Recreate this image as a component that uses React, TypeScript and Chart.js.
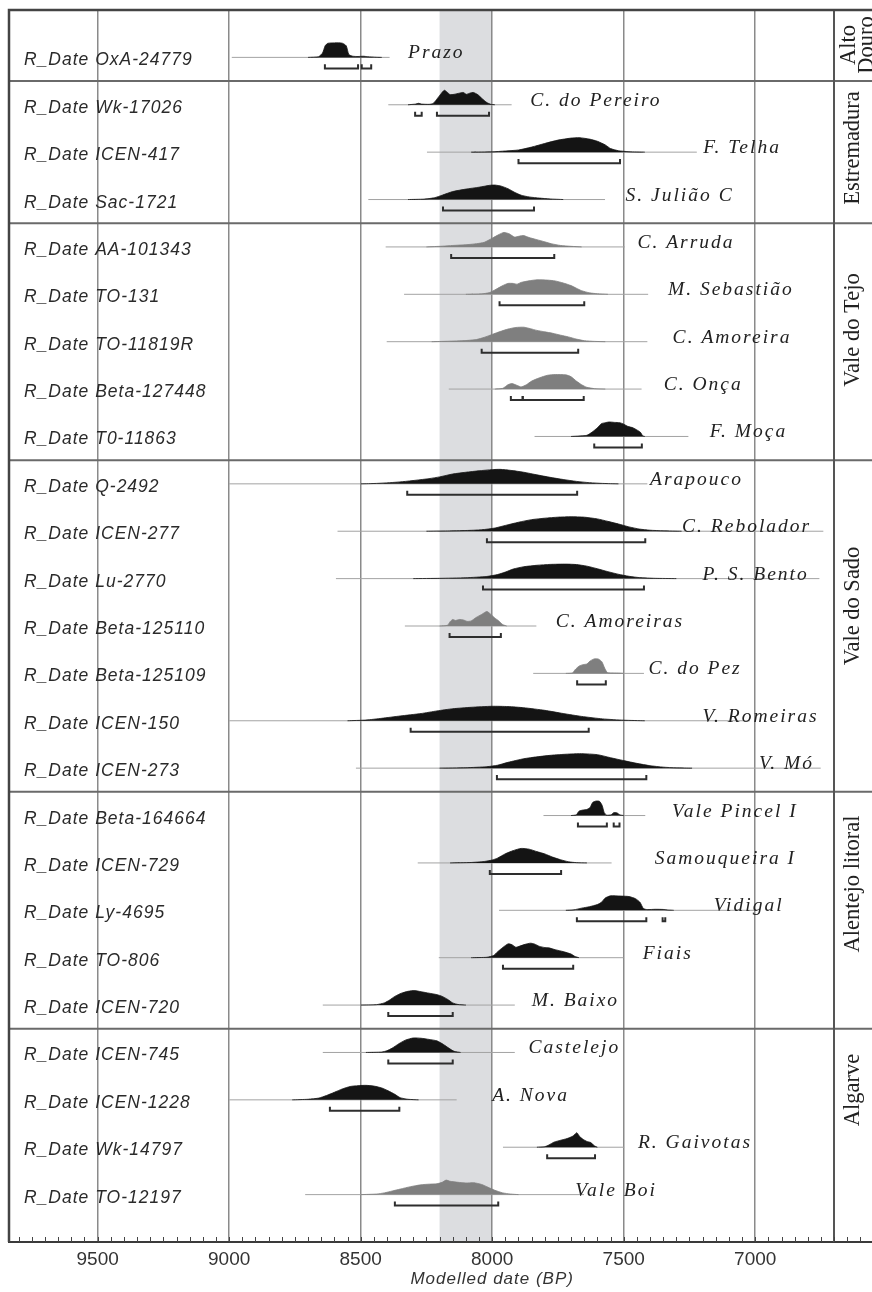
import React, { useEffect, useRef } from 'react';
import { Chart, registerables } from 'chart.js';

Chart.register(...registerables);

// ---------- data ----------
const labCodes = ['OxA-24779', 'Wk-17026', 'ICEN-417', 'Sac-1721', 'AA-101343', 'TO-131', 'TO-11819R', 'Beta-127448', 'T0-11863', 'Q-2492', 'ICEN-277', 'Lu-2770', 'Beta-125110', 'Beta-125109', 'ICEN-150', 'ICEN-273', 'Beta-164664', 'ICEN-729', 'Ly-4695', 'TO-806', 'ICEN-720', 'ICEN-745', 'ICEN-1228', 'Wk-14797', 'TO-12197'];

const siteNames = ['Prazo', 'C. do Pereiro', 'F. Telha', 'S. Julião C', 'C. Arruda', 'M. Sebastião', 'C. Amoreira', 'C. Onça', 'F. Moça', 'Arapouco', 'C. Rebolador', 'P. S. Bento', 'C. Amoreiras', 'C. do Pez', 'V. Romeiras', 'V. Mó', 'Vale Pincel I', 'Samouqueira I', 'Vidigal', 'Fiais', 'M. Baixo', 'Castelejo', 'A. Nova', 'R. Gaivotas', 'Vale Boi'];

// year at which each site name starts
const siteLabelAt = [8320, 7855, 7198, 7493, 7448, 7332, 7314, 7348, 7173, 7400, 7278, 7200, 7758, 7406, 7200, 6986, 7316, 7382, 7158, 7428, 7850, 7862, 8000, 7446, 7684];

// k = black, g = grey
const shade = ['k', 'k', 'k', 'k', 'g', 'g', 'g', 'g', 'k', 'k', 'k', 'k', 'g', 'g', 'k', 'k', 'k', 'k', 'k', 'k', 'k', 'k', 'k', 'k', 'g'];

// full extent of each distribution (years BP)
const rangeFrom = [8990, 8395, 8248, 8471, 8405, 8335, 8401, 8165, 7839, 9000, 8588, 8594, 8332, 7844, 9000, 8518, 7805, 8283, 7974, 8203, 8644, 8644, 9000, 7959, 8711];
const rangeTo = [8390, 7926, 7222, 7571, 7496, 7407, 7410, 7432, 7254, 7410, 6741, 6756, 7832, 7423, 7020, 6751, 7418, 7546, 7004, 7501, 7914, 7914, 8135, 7498, 7651];

// 95.4% ranges
const hpd95 = [
  [[8636, 8510], [8496, 8460]],
  [[8293, 8268], [8210, 8012]],
  [[7900, 7514]],
  [[8187, 7841]],
  [[8156, 7764]],
  [[7972, 7650]],
  [[8040, 7673]],
  [[7929, 7884], [7884, 7652]],
  [[7612, 7431]],
  [[8323, 7677]],
  [[8020, 7418]],
  [[8035, 7423]],
  [[8162, 7967]],
  [[7677, 7568]],
  [[8310, 7633]],
  [[7982, 7414]],
  [[7674, 7564], [7538, 7516]],
  [[8009, 7738]],
  [[7678, 7414], [7352, 7342]],
  [[7959, 7692]],
  [[8395, 8150]],
  [[8395, 8150]],
  [[8617, 8353]],
  [[7791, 7609]],
  [[8370, 7977]],
];

// relative probability (year, density 0..1)
const densities = [
  [[8700, 0], [8660, 0.05], [8645, 0.3], [8635, 0.8], [8625, 0.97], [8600, 1], [8570, 0.98], [8555, 0.8], [8545, 0.2], [8530, 0.08], [8510, 0.06], [8490, 0.08], [8475, 0.05], [8440, 0.01], [8420, 0]],
  [[8320, 0], [8290, 0.05], [8280, 0.1], [8270, 0.05], [8240, 0.03], [8225, 0.08], [8212, 0.35], [8195, 0.75], [8182, 1], [8170, 0.85], [8160, 0.7], [8145, 0.72], [8125, 0.8], [8110, 0.85], [8098, 0.72], [8085, 0.8], [8072, 0.85], [8055, 0.7], [8040, 0.45], [8020, 0.15], [8005, 0.03], [7990, 0]],
  [[8080, 0], [8000, 0.02], [7950, 0.08], [7900, 0.15], [7850, 0.35], [7800, 0.6], [7750, 0.83], [7700, 0.97], [7670, 1], [7630, 0.9], [7600, 0.75], [7570, 0.5], [7550, 0.25], [7520, 0.1], [7480, 0.03], [7420, 0]],
  [[8320, 0], [8260, 0.03], [8220, 0.12], [8190, 0.3], [8150, 0.55], [8100, 0.72], [8050, 0.85], [8010, 0.98], [7990, 1], [7965, 0.92], [7940, 0.75], [7915, 0.5], [7890, 0.3], [7860, 0.18], [7820, 0.1], [7780, 0.04], [7730, 0]],
  [[8250, 0], [8190, 0.05], [8150, 0.1], [8100, 0.15], [8060, 0.22], [8030, 0.32], [8000, 0.6], [7975, 0.85], [7955, 1], [7935, 0.9], [7915, 0.68], [7895, 0.75], [7880, 0.78], [7860, 0.65], [7830, 0.5], [7800, 0.35], [7775, 0.22], [7740, 0.1], [7700, 0.04], [7660, 0]],
  [[8100, 0], [8040, 0.03], [8010, 0.12], [7985, 0.35], [7960, 0.6], [7940, 0.75], [7920, 0.75], [7905, 0.7], [7890, 0.82], [7860, 0.93], [7830, 1], [7790, 0.98], [7760, 0.92], [7730, 0.78], [7700, 0.6], [7680, 0.42], [7660, 0.25], [7630, 0.1], [7600, 0.04], [7560, 0]],
  [[8230, 0], [8170, 0.03], [8100, 0.08], [8060, 0.15], [8030, 0.3], [8000, 0.5], [7970, 0.7], [7940, 0.87], [7910, 0.98], [7880, 1], [7855, 0.9], [7830, 0.78], [7800, 0.68], [7770, 0.58], [7740, 0.45], [7710, 0.33], [7680, 0.18], [7650, 0.07], [7610, 0.02], [7570, 0]],
  [[7990, 0], [7960, 0.05], [7940, 0.3], [7925, 0.38], [7905, 0.25], [7890, 0.15], [7870, 0.3], [7850, 0.55], [7820, 0.78], [7790, 0.95], [7760, 1], [7720, 0.98], [7700, 0.85], [7680, 0.55], [7660, 0.3], [7640, 0.12], [7610, 0.03], [7570, 0]],
  [[7700, 0], [7670, 0.03], [7640, 0.08], [7620, 0.3], [7600, 0.6], [7585, 0.88], [7570, 0.95], [7555, 1], [7535, 0.97], [7515, 0.95], [7500, 0.85], [7485, 0.7], [7465, 0.6], [7450, 0.45], [7437, 0.3], [7428, 0.05], [7420, 0]],
  [[8500, 0], [8440, 0.03], [8390, 0.08], [8340, 0.15], [8290, 0.25], [8240, 0.36], [8200, 0.48], [8150, 0.68], [8100, 0.8], [8050, 0.9], [8000, 0.98], [7970, 1], [7930, 0.93], [7880, 0.8], [7830, 0.62], [7780, 0.45], [7730, 0.3], [7680, 0.17], [7630, 0.08], [7580, 0.03], [7520, 0]],
  [[8250, 0], [8170, 0.02], [8100, 0.05], [8040, 0.1], [7990, 0.22], [7950, 0.4], [7900, 0.62], [7850, 0.8], [7800, 0.9], [7750, 0.97], [7700, 1], [7650, 0.97], [7600, 0.85], [7560, 0.68], [7520, 0.5], [7480, 0.3], [7440, 0.15], [7400, 0.07], [7350, 0.03], [7280, 0]],
  [[8300, 0], [8200, 0.02], [8100, 0.06], [8020, 0.15], [7980, 0.28], [7950, 0.45], [7920, 0.66], [7880, 0.82], [7830, 0.92], [7780, 0.98], [7720, 1], [7680, 0.97], [7640, 0.86], [7600, 0.68], [7560, 0.48], [7520, 0.3], [7480, 0.16], [7440, 0.07], [7380, 0.02], [7300, 0]],
  [[8200, 0], [8170, 0.05], [8160, 0.3], [8150, 0.45], [8140, 0.38], [8125, 0.45], [8110, 0.42], [8095, 0.32], [8080, 0.35], [8060, 0.6], [8040, 0.8], [8020, 1], [8005, 0.8], [7990, 0.55], [7975, 0.35], [7960, 0.1], [7945, 0]],
  [[7720, 0], [7695, 0.03], [7685, 0.25], [7670, 0.5], [7655, 0.6], [7640, 0.65], [7628, 0.85], [7612, 1], [7595, 0.98], [7583, 0.8], [7572, 0.35], [7562, 0.06], [7540, 0.03], [7515, 0.02], [7500, 0]],
  [[8550, 0], [8480, 0.05], [8420, 0.17], [8350, 0.33], [8270, 0.5], [8210, 0.68], [8150, 0.83], [8080, 0.93], [8000, 1], [7940, 0.98], [7880, 0.9], [7800, 0.72], [7730, 0.5], [7660, 0.3], [7580, 0.13], [7500, 0.04], [7420, 0]],
  [[8200, 0], [8100, 0.03], [8020, 0.1], [7980, 0.2], [7940, 0.4], [7880, 0.65], [7830, 0.78], [7770, 0.9], [7700, 0.98], [7660, 1], [7600, 0.93], [7550, 0.72], [7500, 0.52], [7450, 0.33], [7400, 0.17], [7350, 0.07], [7300, 0.02], [7240, 0]],
  [[7700, 0], [7680, 0.05], [7670, 0.3], [7655, 0.38], [7640, 0.42], [7628, 0.55], [7618, 0.9], [7605, 1], [7592, 0.98], [7582, 0.7], [7574, 0.2], [7565, 0.03], [7548, 0.05], [7538, 0.2], [7525, 0.18], [7515, 0.05], [7500, 0]],
  [[8160, 0], [8080, 0.03], [8030, 0.1], [8000, 0.2], [7980, 0.33], [7950, 0.63], [7920, 0.85], [7890, 1], [7860, 0.95], [7830, 0.78], [7800, 0.62], [7770, 0.4], [7740, 0.22], [7710, 0.08], [7680, 0.02], [7640, 0]],
  [[7720, 0], [7690, 0.03], [7660, 0.15], [7630, 0.25], [7600, 0.4], [7585, 0.55], [7570, 0.85], [7550, 1], [7510, 0.98], [7480, 0.95], [7455, 0.8], [7438, 0.55], [7425, 0.12], [7410, 0.05], [7380, 0.07], [7350, 0.06], [7330, 0.02], [7310, 0]],
  [[8080, 0], [8020, 0.03], [7995, 0.15], [7980, 0.4], [7960, 0.7], [7940, 0.95], [7925, 0.9], [7910, 0.72], [7895, 0.8], [7875, 0.92], [7855, 1], [7840, 0.95], [7820, 0.78], [7800, 0.7], [7785, 0.68], [7760, 0.55], [7730, 0.42], [7700, 0.25], [7685, 0.08], [7670, 0]],
  [[8500, 0], [8440, 0.03], [8410, 0.15], [8390, 0.35], [8370, 0.6], [8345, 0.82], [8320, 0.95], [8295, 1], [8270, 0.92], [8240, 0.82], [8210, 0.72], [8190, 0.6], [8170, 0.4], [8150, 0.15], [8130, 0.04], [8100, 0]],
  [[8480, 0], [8420, 0.03], [8400, 0.12], [8380, 0.3], [8355, 0.6], [8330, 0.85], [8300, 1], [8270, 0.98], [8240, 0.9], [8210, 0.8], [8185, 0.55], [8165, 0.3], [8145, 0.08], [8120, 0]],
  [[8760, 0], [8700, 0.04], [8660, 0.12], [8630, 0.3], [8600, 0.52], [8570, 0.75], [8540, 0.92], [8510, 0.98], [8480, 1], [8450, 0.95], [8420, 0.82], [8395, 0.62], [8370, 0.38], [8350, 0.15], [8320, 0.04], [8280, 0]],
  [[7830, 0], [7800, 0.04], [7785, 0.15], [7765, 0.35], [7740, 0.48], [7715, 0.6], [7695, 0.75], [7685, 0.9], [7678, 1], [7668, 0.75], [7655, 0.55], [7640, 0.4], [7625, 0.32], [7612, 0.1], [7600, 0]],
  [[8500, 0], [8440, 0.04], [8410, 0.12], [8380, 0.25], [8350, 0.38], [8310, 0.55], [8270, 0.68], [8240, 0.72], [8210, 0.75], [8190, 0.85], [8175, 1], [8160, 0.92], [8130, 0.85], [8100, 0.8], [8070, 0.82], [8040, 0.7], [8015, 0.5], [7990, 0.3], [7960, 0.12], [7930, 0.04], [7900, 0]],
];

const groupNames = [['Alto', 'Douro'], ['Estremadura'], ['Vale do Tejo'], ['Vale do Sado'], ['Alentejo litoral'], ['Algarve']];
const groupFirstRow = [0, 1, 4, 9, 16, 21];

const axisTicks = [9500, 9000, 8500, 8000, 7500, 7000];
const bandFrom = 8200;
const bandTo = 8000;
const axisTitle = 'Modelled date (BP)';

// ---------- layout / style ----------
const W = 872;
const H = 1292;
const X_MAX = 9837;
const X_MIN = 6556;
const SLOTS = 26;
const PEAK = 0.306;
const BRK = 0.232;
const TICK = 0.085;
const COLUMN_X = 834;
const GROUP_LABEL_Y = [45, 148, 330, 606, 884, 1090];

const SANS = '"Liberation Sans", Arial, sans-serif';
const SERIF = '"Liberation Serif", "Times New Roman", serif';

function drawText(ctx: any, s: string, x: number, y: number, font: string, align: string, spacing: number, color = '#222') {
  ctx.save();
  ctx.font = font;
  ctx.fillStyle = color;
  ctx.textAlign = align;
  ctx.textBaseline = 'alphabetic';
  if ('letterSpacing' in ctx) ctx.letterSpacing = spacing + 'px';
  ctx.fillText(s, x, y);
  ctx.restore();
}

const overlay = {
  id: 'overlay',
  beforeDraw(chart: any) {
    const { ctx, chartArea: ca, scales } = chart;
    const x = scales.x;
    const x1 = x.getPixelForValue(bandFrom);
    const x2 = x.getPixelForValue(bandTo);
    ctx.save();
    ctx.fillStyle = '#dcdde0';
    ctx.fillRect(Math.min(x1, x2), ca.top, Math.abs(x2 - x1), ca.bottom - ca.top);
    ctx.restore();
  },
  afterDraw(chart: any) {
    const { ctx, chartArea: ca, scales } = chart;
    const x = scales.x;
    const y = scales.y;
    ctx.save();
    // group separators
    ctx.strokeStyle = '#6a6a6a';
    ctx.lineWidth = 2;
    groupFirstRow.slice(1).forEach((r) => {
      const py = y.getPixelForValue(r + 0.5);
      ctx.beginPath();
      ctx.moveTo(ca.left, py);
      ctx.lineTo(W, py);
      ctx.stroke();
    });
    // column separator
    ctx.strokeStyle = '#555';
    ctx.beginPath();
    ctx.moveTo(COLUMN_X, ca.top);
    ctx.lineTo(COLUMN_X, ca.bottom);
    ctx.stroke();
    // frame top + left
    ctx.strokeStyle = '#444';
    ctx.lineWidth = 2.5;
    ctx.beginPath();
    ctx.moveTo(ca.left, ca.bottom);
    ctx.lineTo(ca.left, ca.top);
    ctx.lineTo(W, ca.top);
    ctx.stroke();
    // minor ticks every 50 years
    ctx.strokeStyle = '#444';
    ctx.lineWidth = 1;
    for (let v = Math.ceil(X_MIN / 50) * 50; v <= X_MAX; v += 50) {
      const px = Math.round(x.getPixelForValue(v)) + 0.5;
      ctx.beginPath();
      ctx.moveTo(px, ca.bottom);
      ctx.lineTo(px, ca.bottom - 5);
      ctx.stroke();
    }
    ctx.restore();

    // row labels
    labCodes.forEach((code, i) => {
      const py = y.getPixelForValue(i + 1);
      drawText(ctx, 'R_Date ' + code, 24, py + 8, 'italic 17.5px ' + SANS, 'left', 1, '#2a2a2a');
      drawText(ctx, siteNames[i], x.getPixelForValue(siteLabelAt[i]), py + 1, 'italic 19.5px ' + SERIF, 'left', 2, '#222');
    });

    // group labels (rotated)
    groupNames.forEach((lines, g) => {
      const cy = GROUP_LABEL_Y[g];
      ctx.save();
      ctx.font = '22.5px ' + SERIF;
      ctx.fillStyle = '#222';
      ctx.textAlign = 'center';
      ctx.textBaseline = 'middle';
      if (lines.length === 1) {
        ctx.translate(853, cy);
        ctx.rotate(-Math.PI / 2);
        ctx.fillText(lines[0], 0, 0);
      } else {
        ctx.translate(849, cy);
        ctx.rotate(-Math.PI / 2);
        ctx.fillText(lines[0], 0, 0);
        ctx.fillText(lines[1], 0, 18);
      }
      ctx.restore();
    });

    // axis title
    drawText(ctx, axisTitle, x.getPixelForValue(8000), 1284, 'italic 17px ' + SANS, 'center', 1, '#333');
  },
};

function buildDatasets() {
  const ds: any[] = [];
  densities.forEach((pts, i) => {
    const base = i + 1;
    const col = shade[i] === 'g' ? '#7f7f7f' : '#141414';
    ds.push({
      data: pts.map(([yr, d]) => ({ x: yr, y: base - d * PEAK })),
      borderColor: col,
      backgroundColor: col,
      borderWidth: 0.8,
      pointRadius: 0,
      tension: 0.2,
      fill: { value: base },
    });
  });
  hpd95.forEach((segs, i) => {
    const yb = i + 1 + BRK;
    segs.forEach(([a, b]) => {
      ds.push({
        data: [{ x: a, y: yb - TICK }, { x: a, y: yb }, { x: b, y: yb }, { x: b, y: yb - TICK }],
        borderColor: '#2e2e2e',
        borderWidth: 2,
        pointRadius: 0,
        tension: 0,
        fill: false,
      });
    });
  });
  rangeFrom.forEach((a, i) => {
    ds.push({
      data: [{ x: a, y: i + 1 }, { x: rangeTo[i], y: i + 1 }],
      borderColor: '#a3a3a3',
      borderWidth: 1,
      pointRadius: 0,
      fill: false,
    });
  });
  return ds;
}

export default function App() {
  const ref = useRef<HTMLCanvasElement | null>(null);
  useEffect(() => {
    if (!ref.current) return;
    const chart = new Chart(ref.current, {
      type: 'line',
      data: { datasets: buildDatasets() },
      options: {
        animation: false,
        responsive: false,
        events: [],
        layout: { padding: { left: 9, top: 10, right: 0, bottom: 21 } },
        plugins: { legend: { display: false }, tooltip: { enabled: false }, title: { display: false } },
        scales: {
          x: {
            type: 'linear',
            reverse: true,
            min: X_MIN,
            max: X_MAX,
            afterBuildTicks: (s: any) => {
              s.ticks = axisTicks.map((v) => ({ value: v }));
            },
            afterFit: (s: any) => {
              s.height = 29;
            },
            grid: { display: true, color: '#8a8a8a', lineWidth: 1.5, drawTicks: false },
            border: { display: true, color: '#3a3a3a', width: 2 },
            ticks: {
              color: '#333',
              font: { family: SANS, size: 19 },
              padding: 6,
              maxRotation: 0,
              autoSkip: false,
              callback: (v: any) => String(v),
            },
          },
          y: { type: 'linear', reverse: true, min: 0, max: SLOTS, display: false },
        },
      },
      plugins: [overlay],
    } as any);
    return () => chart.destroy();
  }, []);
  return (
    <div style={{ position: 'absolute', left: 0, top: 0, width: W, height: H, background: '#fff' }}>
      <canvas ref={ref} width={W} height={H} style={{ display: 'block' }} />
    </div>
  );
}
